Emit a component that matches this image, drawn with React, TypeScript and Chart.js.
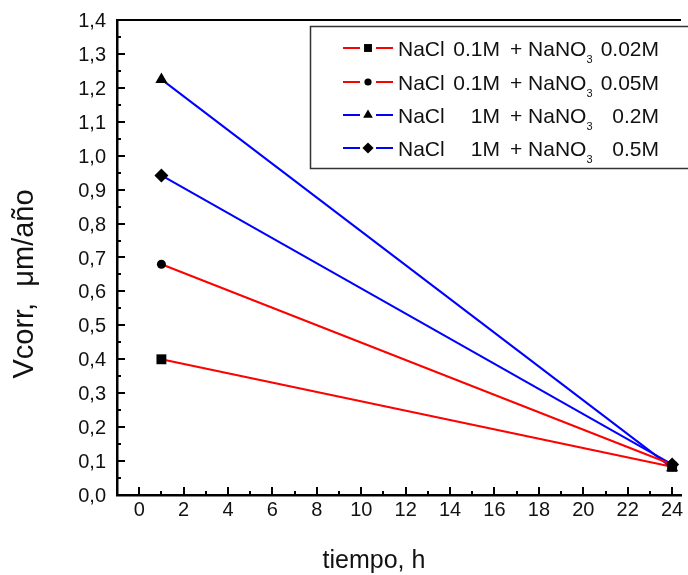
import { useEffect, useRef } from "react";
import { Chart, registerables } from "chart.js";

Chart.register(...registerables);

// ---- data ----
const timeHours = [1, 24];
const nacl01_nitrate002 = [0.4, 0.083];
const nacl01_nitrate005 = [0.68, 0.09];
const nacl1_nitrate02 = [1.225, 0.08];
const nacl1_nitrate05 = [0.942, 0.09];

const saltConc = ["0.1M", "0.1M", "1M", "1M"];
const nitrateConc = ["0.02M", "0.05M", "0.2M", "0.5M"];
const seriesColors = ["#ff0000", "#ff0000", "#0000ff", "#0000ff"];
const seriesMarkers = ["rect", "circle", "triangle", "rectRot"];
const markerRadius = [7, 4.5, 7, 7];

const xTickValues = [0, 2, 4, 6, 8, 10, 12, 14, 16, 18, 20, 22, 24];
const yTickValues = [0, 0.1, 0.2, 0.3, 0.4, 0.5, 0.6, 0.7, 0.8, 0.9, 1.0, 1.1, 1.2, 1.3, 1.4];

const xTitle = "tiempo, h";
const yTitle = "Vcorr,  \u03bcm/a\u00f1o";

const FONT = '"Liberation Sans", Arial, sans-serif';

function drawMarker(ctx: CanvasRenderingContext2D, type: string, x: number, y: number, r: number) {
  ctx.beginPath();
  if (type === "rect") {
    const s = r * Math.SQRT1_2;
    ctx.rect(x - s, y - s, 2 * s, 2 * s);
  } else if (type === "circle") {
    ctx.arc(x, y, r, 0, Math.PI * 2);
  } else if (type === "triangle") {
    ctx.moveTo(x, y - r);
    ctx.lineTo(x + r * Math.cos(Math.PI / 6), y + r * 0.5);
    ctx.lineTo(x - r * Math.cos(Math.PI / 6), y + r * 0.5);
    ctx.closePath();
  } else {
    ctx.moveTo(x, y - r);
    ctx.lineTo(x + r, y);
    ctx.lineTo(x, y + r);
    ctx.lineTo(x - r, y);
    ctx.closePath();
  }
  ctx.fill();
}

const decorPlugin = {
  id: "decor",
  afterDraw(chart: any) {
    const { ctx, chartArea, scales } = chart;
    const xs = scales.x;
    const ys = scales.y;
    ctx.save();
    ctx.strokeStyle = "#000";
    ctx.fillStyle = "#000";
    ctx.lineWidth = 2;
    // top frame line
    ctx.beginPath();
    ctx.moveTo(chartArea.left - 1, chartArea.top);
    ctx.lineTo(chartArea.right, chartArea.top);
    ctx.stroke();

    // x ticks (inward)
    for (let v = 0; v <= 24; v++) {
      const px = Math.round(xs.getPixelForValue(v));
      const len = v % 2 === 0 ? 8 : 4;
      ctx.beginPath();
      ctx.moveTo(px, chartArea.bottom);
      ctx.lineTo(px, chartArea.bottom - len);
      ctx.stroke();
    }
    // y ticks (inward)
    for (let i = 0; i <= 28; i++) {
      const v = i * 0.05;
      const py = Math.round(ys.getPixelForValue(v));
      const len = i % 2 === 0 ? 8 : 4;
      ctx.beginPath();
      ctx.moveTo(chartArea.left, py);
      ctx.lineTo(chartArea.left + len, py);
      ctx.stroke();
    }

    // tick labels
    ctx.fillStyle = "#111";
    ctx.font = `20px ${FONT}`;
    ctx.textBaseline = "alphabetic";
    ctx.textAlign = "center";
    xTickValues.forEach((v) => {
      ctx.fillText(String(v), xs.getPixelForValue(v), 516);
    });
    ctx.textAlign = "right";
    yTickValues.forEach((v) => {
      ctx.fillText(v.toFixed(1).replace(".", ","), 106, ys.getPixelForValue(v) + 7);
    });

    // axis titles
    ctx.font = `25px ${FONT}`;
    ctx.textAlign = "center";
    ctx.fillText(xTitle, 374, 568);
    ctx.save();
    ctx.translate(33, 284);
    ctx.rotate(-Math.PI / 2);
    ctx.font = `29px ${FONT}`;
    ctx.fillText(yTitle, 0, 0);
    ctx.restore();

    // legend
    ctx.strokeStyle = "#333";
    ctx.lineWidth = 1.5;
    ctx.strokeRect(310.5, 26.5, 420, 142);
    const rows = [48, 82, 115, 148];
    rows.forEach((ry, i) => {
      ctx.strokeStyle = seriesColors[i];
      ctx.lineWidth = 2;
      ctx.beginPath();
      ctx.moveTo(343, ry);
      ctx.lineTo(360, ry);
      ctx.moveTo(376, ry);
      ctx.lineTo(393, ry);
      ctx.stroke();
      ctx.fillStyle = "#000";
      drawMarker(ctx, seriesMarkers[i], 368, ry, markerRadius[i] * 0.8);
      ctx.fillStyle = "#111";
      ctx.font = `21px ${FONT}`;
      ctx.textAlign = "left";
      ctx.fillText("NaCl", 398, ry + 7.5);
      ctx.textAlign = "right";
      ctx.fillText(saltConc[i], 500, ry + 7.5);
      ctx.textAlign = "left";
      ctx.fillText("+ NaNO", 510, ry + 7.5);
      const w = ctx.measureText("+ NaNO").width;
      ctx.font = `11px ${FONT}`;
      ctx.fillText("3", 510 + w, ry + 15);
      ctx.font = `21px ${FONT}`;
      ctx.textAlign = "right";
      ctx.fillText(nitrateConc[i], 659, ry + 7.5);
    });
    ctx.restore();
  },
};

export default function App() {
  const ref = useRef<HTMLCanvasElement | null>(null);
  useEffect(() => {
    if (!ref.current) return;
    const seriesData = [nacl01_nitrate002, nacl01_nitrate005, nacl1_nitrate02, nacl1_nitrate05];
    const chart = new Chart(ref.current, {
      type: "line",
      data: {
        datasets: seriesData.map((vals, i) => ({
          label: `NaCl ${saltConc[i]} + NaNO3 ${nitrateConc[i]}`,
          data: timeHours.map((t, j) => ({ x: t, y: vals[j] })),
          borderColor: seriesColors[i],
          borderWidth: 2,
          backgroundColor: "#000",
          pointBackgroundColor: "#000",
          pointBorderColor: "#000",
          pointBorderWidth: 0,
          pointStyle: seriesMarkers[i] as any,
          pointRadius: markerRadius[i],
          tension: 0,
          clip: false as any,
        })),
      },
      options: {
        animation: false,
        responsive: false,
        events: [],
        layout: { padding: { top: 20, left: 0, right: 0, bottom: 0 } },
        plugins: { legend: { display: false }, tooltip: { enabled: false } },
        scales: {
          x: {
            type: "linear",
            min: -1,
            max: 24.4,
            grid: { display: false, drawTicks: false },
            border: { display: true, color: "#000", width: 2.5 },
            ticks: { display: false },
            afterFit: (s: any) => {
              s.height = 80;
            },
          },
          y: {
            type: "linear",
            min: 0,
            max: 1.4,
            grid: { display: false, drawTicks: false },
            border: { display: true, color: "#000", width: 2.5 },
            ticks: { display: false },
            afterFit: (s: any) => {
              s.width = 117;
            },
          },
        },
      },
      plugins: [decorPlugin],
    });
    return () => chart.destroy();
  }, []);
  return (
    <div style={{ position: "fixed", left: 0, top: 0, width: 688, height: 575, background: "#fff" }}>
      <canvas ref={ref} width={688} height={575} style={{ display: "block" }} />
    </div>
  );
}
